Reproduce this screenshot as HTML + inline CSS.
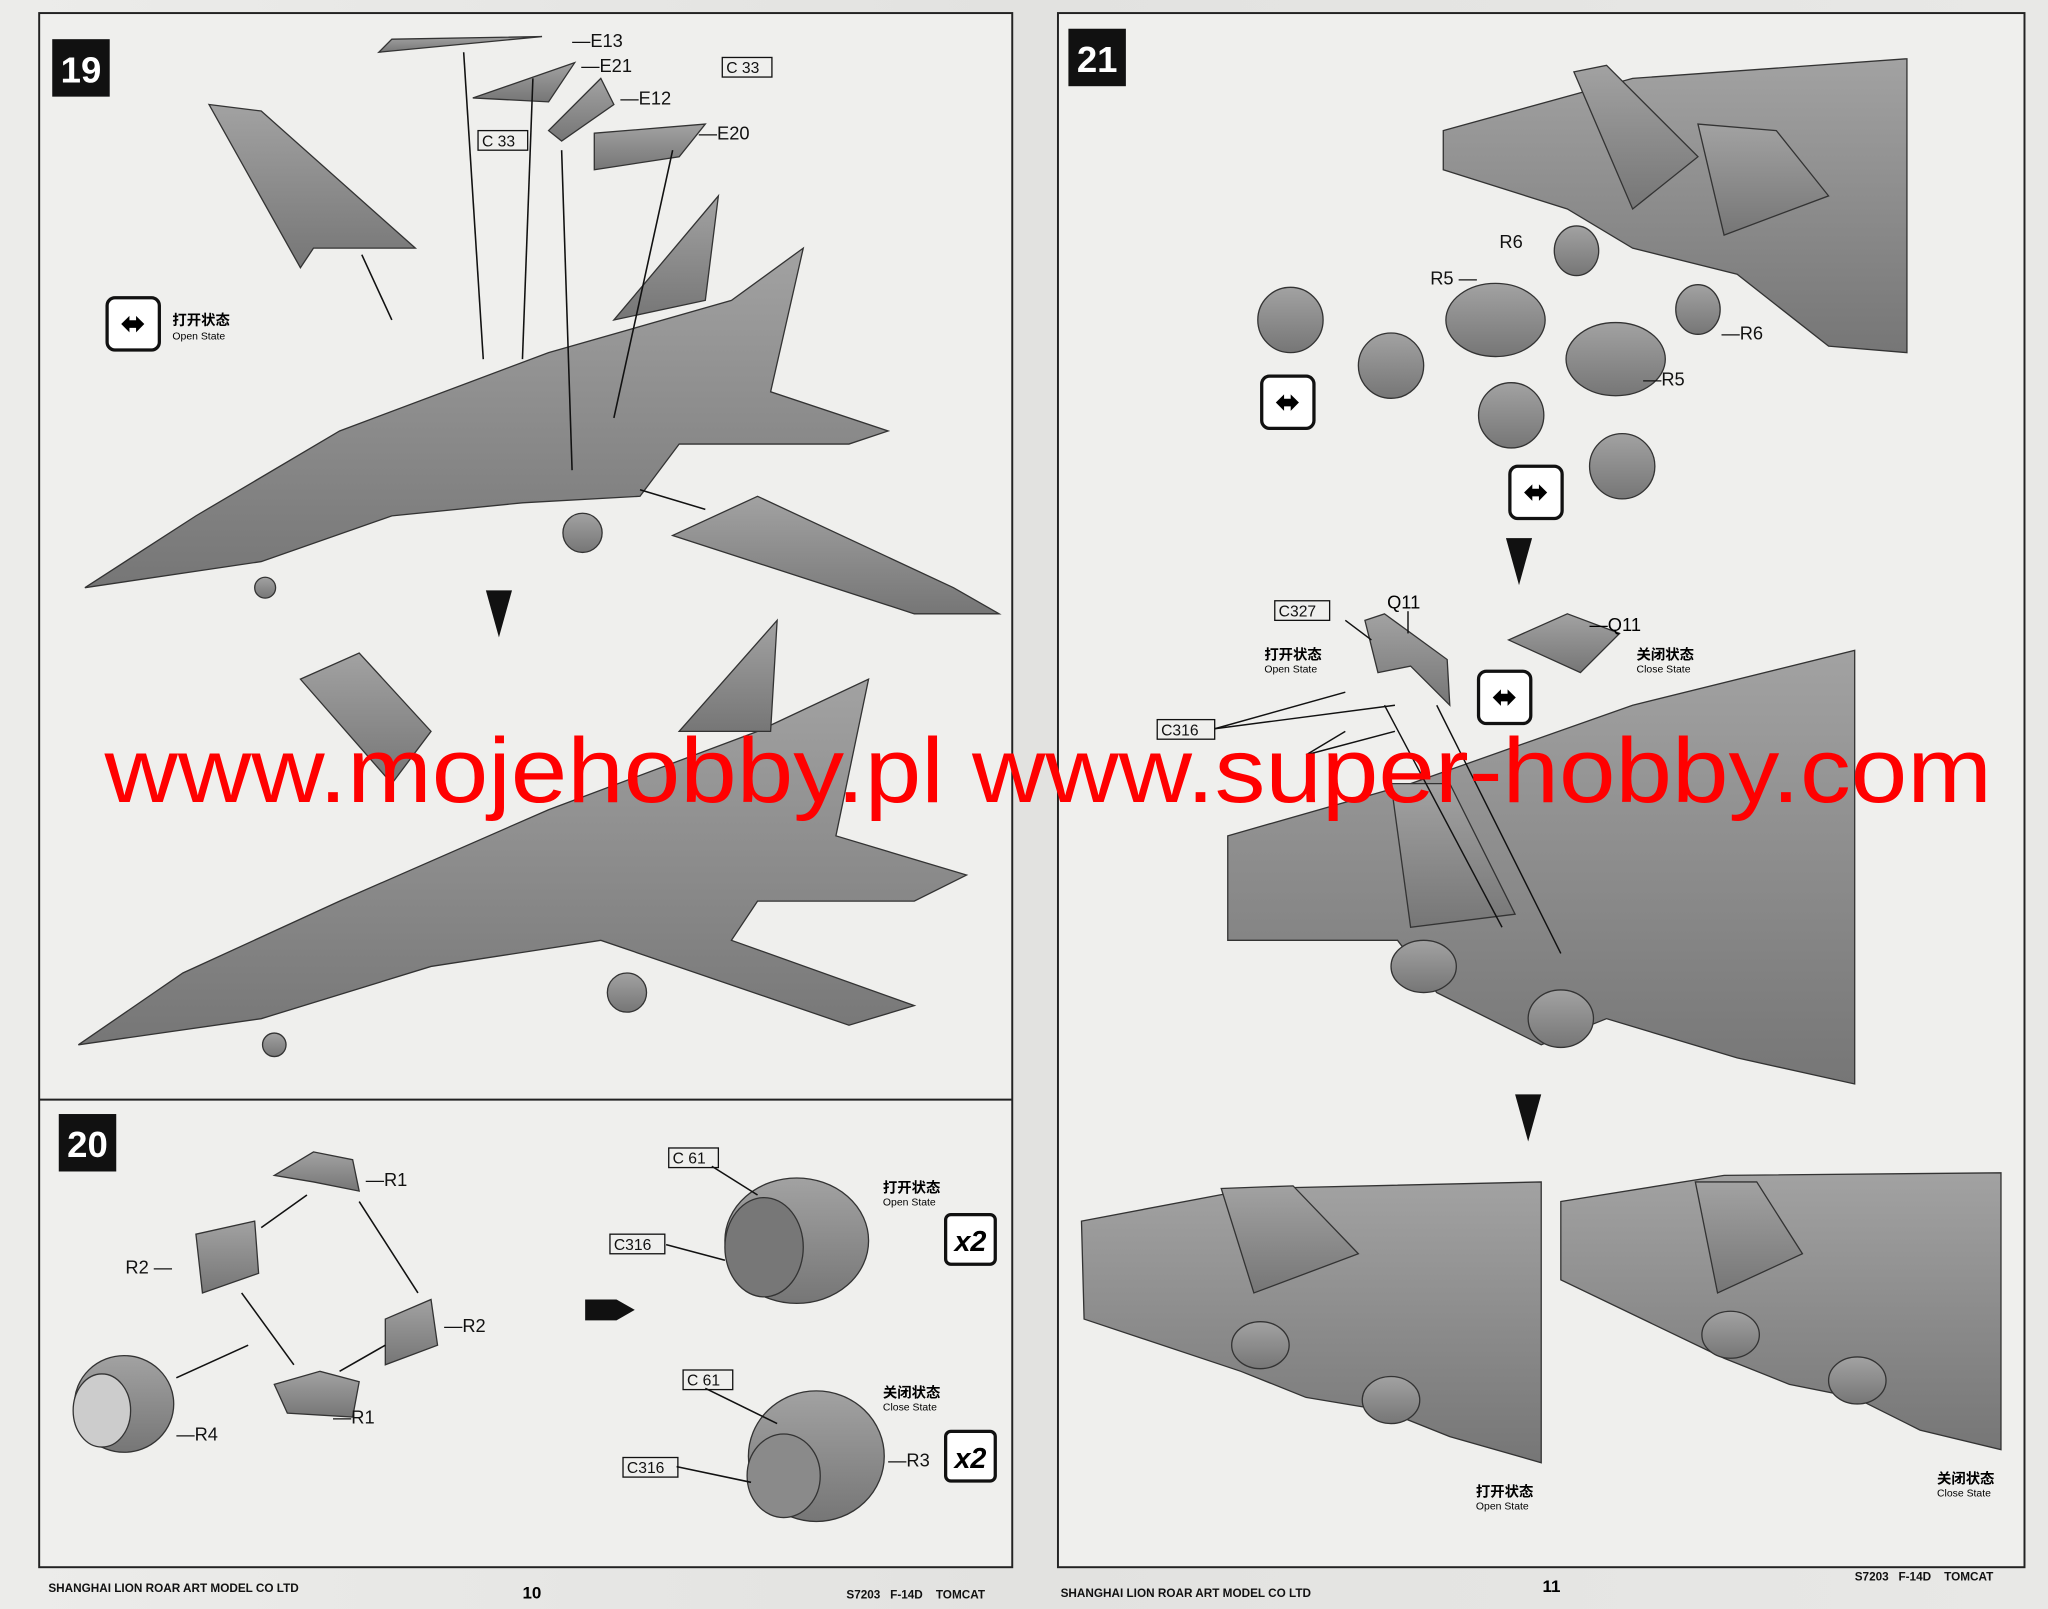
<!DOCTYPE html>
<html><head><meta charset="utf-8"><style>
html,body{margin:0;padding:0;background:#e9e9e7;}
svg{display:block;}
text{font-family:"Liberation Sans","Noto Sans CJK SC",sans-serif;}
</style></head><body>
<svg width="2048" height="1609" viewBox="0 0 1568 1232" preserveAspectRatio="none" xmlns="http://www.w3.org/2000/svg">
<defs>
<linearGradient id="bg" x1="0" y1="0" x2="1" y2="0">
<stop offset="0" stop-color="#ececea"/><stop offset="0.5" stop-color="#e2e2e0"/><stop offset="1" stop-color="#e8e8e6"/></linearGradient>
<linearGradient id="jet" x1="0" y1="0" x2="0" y2="1">
<stop offset="0" stop-color="#a2a2a2"/><stop offset="1" stop-color="#767676"/></linearGradient>
</defs>
<rect width="1568" height="1232" fill="url(#bg)"/>
<rect x="30" y="10" width="745" height="1190" fill="#efefed" stroke="#222" stroke-width="1.5"/>
<line x1="30" y1="842" x2="775" y2="842" stroke="#222" stroke-width="1.5"/>
<rect x="810" y="10" width="740" height="1190" fill="#efefed" stroke="#222" stroke-width="1.5"/>
<rect x="40" y="30" width="44" height="44" fill="#111"/><text x="62" y="63" fill="#fff" font-size="28" font-weight="bold" text-anchor="middle">19</text>
<rect x="45" y="853" width="44" height="44" fill="#111"/><text x="67" y="886" fill="#fff" font-size="28" font-weight="bold" text-anchor="middle">20</text>
<rect x="818" y="22" width="44" height="44" fill="#111"/><text x="840" y="55" fill="#fff" font-size="28" font-weight="bold" text-anchor="middle">21</text>

<g fill="url(#jet)" stroke="#333" stroke-width="1">
<path d="M65,450 L150,395 L260,330 L420,270 L560,230 L615,190 L590,300 L680,330 L650,340 L520,340 L490,380 L400,385 L300,395 L200,430 Z"/>
<path d="M470,245 L550,150 L540,230 Z"/>
<path d="M160,80 L200,85 L318,190 L240,190 L230,205 Z"/>
<path d="M515,410 L580,380 L730,450 L765,470 L700,470 Z"/>
<path d="M290,40 L415,28 L300,30 Z"/>
<path d="M362,75 L440,48 L420,78 Z"/>
<path d="M455,102 L540,95 L520,120 L455,130 Z"/>
<path d="M420,100 L460,60 L470,80 L430,108 Z"/>
<circle cx="446" cy="408" r="15"/><circle cx="203" cy="450" r="8"/>
</g>
<g fill="url(#jet)" stroke="#333" stroke-width="1">
<path d="M60,800 L140,745 L260,690 L420,620 L580,560 L665,520 L640,640 L740,670 L700,690 L580,690 L560,720 L700,770 L650,785 L460,720 L330,740 L200,780 Z"/>
<path d="M520,560 L595,475 L590,560 Z"/>
<path d="M230,520 L275,500 L330,560 L300,600 Z"/>
<circle cx="480" cy="760" r="15"/><circle cx="210" cy="800" r="9"/>
</g>
<g stroke="#111" stroke-width="1.2" fill="none">
<line x1="355" y1="40" x2="370" y2="275"/><line x1="408" y1="60" x2="400" y2="275"/>
<line x1="430" y1="115" x2="438" y2="360"/><line x1="515" y1="115" x2="470" y2="320"/>
<line x1="277" y1="195" x2="300" y2="245"/><line x1="540" y1="390" x2="490" y2="375"/>
</g>
<g font-size="14" fill="#111">
<text x="438" y="36">—E13</text><text x="445" y="55">—E21</text><text x="475" y="80">—E12</text><text x="535" y="107">—E20</text>
</g>
<g font-size="12" fill="#111"><rect x="553" y="44" width="38" height="15" fill="none" stroke="#111"/><text x="556" y="56">C 33</text>
<rect x="366" y="100" width="38" height="15" fill="none" stroke="#111"/><text x="369" y="112">C 33</text></g>
<rect x="82" y="228" width="40" height="40" rx="6" fill="#fff" stroke="#111" stroke-width="2.5"/>
<text x="102" y="255" font-size="22" text-anchor="middle" font-weight="bold">⬌</text>
<text x="132" y="249" font-size="11" font-weight="bold">打开状态</text><text x="132" y="260" font-size="8">Open State</text>
<path d="M372,452 L392,452 L382,488 Z" fill="#111"/>

<g fill="url(#jet)" stroke="#333" stroke-width="1">
<path d="M210,900 L240,882 L270,888 L275,912 L240,905 Z"/>
<path d="M150,945 L195,935 L198,975 L155,990 Z"/>
<path d="M295,1010 L330,995 L335,1030 L295,1045 Z"/>
<path d="M210,1060 L245,1050 L275,1058 L270,1085 L220,1082 Z"/>
<ellipse cx="95" cy="1075" rx="38" ry="37"/>
<ellipse cx="610" cy="950" rx="55" ry="48"/>
<ellipse cx="625" cy="1115" rx="52" ry="50"/>
</g>
<ellipse cx="78" cy="1080" rx="22" ry="28" fill="#ccc" stroke="#333"/>
<ellipse cx="585" cy="955" rx="30" ry="38" fill="#777" stroke="#333"/>
<ellipse cx="600" cy="1130" rx="28" ry="32" fill="#8a8a8a" stroke="#333"/>
<g stroke="#111" stroke-width="1.2" fill="none">
<line x1="235" y1="915" x2="200" y2="940"/><line x1="320" y1="990" x2="275" y2="920"/>
<line x1="185" y1="990" x2="225" y2="1045"/><line x1="135" y1="1055" x2="190" y2="1030"/>
<line x1="260" y1="1050" x2="295" y2="1030"/>
<line x1="545" y1="893" x2="580" y2="915"/><line x1="510" y1="953" x2="555" y2="965"/>
<line x1="540" y1="1063" x2="595" y2="1090"/><line x1="518" y1="1123" x2="575" y2="1135"/>
</g>
<g font-size="14" fill="#111">
<text x="280" y="908">—R1</text><text x="96" y="975">R2 —</text><text x="340" y="1020">—R2</text>
<text x="255" y="1090">—R1</text><text x="135" y="1103">—R4</text><text x="680" y="1123">—R3</text>
</g>
<g font-size="12" fill="#111">
<rect x="512" y="879" width="38" height="15" fill="none" stroke="#111"/><text x="515" y="891">C 61</text>
<rect x="467" y="945" width="42" height="15" fill="none" stroke="#111"/><text x="470" y="957">C316</text>
<rect x="523" y="1049" width="38" height="15" fill="none" stroke="#111"/><text x="526" y="1061">C 61</text>
<rect x="477" y="1116" width="42" height="15" fill="none" stroke="#111"/><text x="480" y="1128">C316</text>
</g>
<path d="M448,995 L472,995 L486,1003 L472,1011 L448,1011 Z" fill="#111"/>
<text x="676" y="913" font-size="11" font-weight="bold">打开状态</text><text x="676" y="923" font-size="8">Open State</text>
<text x="676" y="1070" font-size="11" font-weight="bold">关闭状态</text><text x="676" y="1080" font-size="8">Close State</text>
<rect x="724" y="930" width="38" height="38" rx="4" fill="#fff" stroke="#111" stroke-width="2.5"/><text x="743" y="958" font-size="22" font-weight="bold" font-style="italic" text-anchor="middle">x2</text>
<rect x="724" y="1096" width="38" height="38" rx="4" fill="#fff" stroke="#111" stroke-width="2.5"/><text x="743" y="1124" font-size="22" font-weight="bold" font-style="italic" text-anchor="middle">x2</text>

<g fill="url(#jet)" stroke="#333" stroke-width="1">
<path d="M1105,100 L1250,60 L1460,45 L1460,270 L1400,265 L1330,210 L1250,190 L1200,160 L1105,130 Z"/>
<path d="M1205,55 L1230,50 L1300,120 L1250,160 Z"/>
<path d="M1300,95 L1360,100 L1400,150 L1320,180 Z"/>
<ellipse cx="1207" cy="192" rx="17" ry="19"/><ellipse cx="1300" cy="237" rx="17" ry="19"/>
<ellipse cx="1145" cy="245" rx="38" ry="28"/><ellipse cx="1237" cy="275" rx="38" ry="28"/>
<ellipse cx="988" cy="245" rx="25" ry="25"/><ellipse cx="1065" cy="280" rx="25" ry="25"/>
<ellipse cx="1157" cy="318" rx="25" ry="25"/><ellipse cx="1242" cy="357" rx="25" ry="25"/>
</g>
<g font-size="14" fill="#111"><text x="1148" y="190">R6</text><text x="1095" y="218">R5 —</text>
<text x="1318" y="260">—R6</text><text x="1258" y="295">—R5</text></g>
<rect x="966" y="288" width="40" height="40" rx="6" fill="#fff" stroke="#111" stroke-width="2.5"/><text x="986" y="315" font-size="22" text-anchor="middle" font-weight="bold">⬌</text>
<rect x="1156" y="357" width="40" height="40" rx="6" fill="#fff" stroke="#111" stroke-width="2.5"/><text x="1176" y="384" font-size="22" text-anchor="middle" font-weight="bold">⬌</text>
<path d="M1153,412 L1173,412 L1163,448 Z" fill="#111"/>

<g fill="url(#jet)" stroke="#333" stroke-width="1">
<path d="M940,640 L1080,600 L1250,540 L1420,498 L1420,830 L1330,810 L1230,780 L1180,800 L1100,760 L1070,720 L940,720 Z"/>
<path d="M1065,600 L1110,600 L1160,700 L1080,710 Z"/>
<ellipse cx="1090" cy="740" rx="25" ry="20"/><ellipse cx="1195" cy="780" rx="25" ry="22"/>
<path d="M1045,475 L1060,470 L1108,505 L1110,540 L1080,510 L1055,515 Z"/>
<path d="M1155,490 L1200,470 L1240,485 L1210,515 Z"/>
</g>
<g stroke="#111" stroke-width="1.1" fill="none">
<line x1="1030" y1="475" x2="1050" y2="490"/><line x1="1078" y1="468" x2="1078" y2="485"/>
<line x1="930" y1="558" x2="1030" y2="530"/><line x1="930" y1="558" x2="1068" y2="540"/>
<line x1="1000" y1="578" x2="1030" y2="560"/><line x1="1000" y1="578" x2="1068" y2="560"/>
<line x1="1100" y1="540" x2="1195" y2="730"/><line x1="1060" y1="540" x2="1150" y2="710"/>
</g>
<g font-size="12" fill="#111">
<rect x="976" y="460" width="42" height="15" fill="none" stroke="#111"/><text x="979" y="472">C327</text>
<rect x="886" y="551" width="44" height="15" fill="none" stroke="#111"/><text x="889" y="563">C316</text>
</g>
<text x="1062" y="466" font-size="14">Q11</text><text x="1217" y="483" font-size="14">—Q11</text>
<text x="968" y="505" font-size="11" font-weight="bold">打开状态</text><text x="968" y="515" font-size="8">Open State</text>
<text x="1253" y="505" font-size="11" font-weight="bold">关闭状态</text><text x="1253" y="515" font-size="8">Close State</text>
<rect x="1132" y="514" width="40" height="40" rx="6" fill="#fff" stroke="#111" stroke-width="2.5"/><text x="1152" y="541" font-size="22" text-anchor="middle" font-weight="bold">⬌</text>
<path d="M1160,838 L1180,838 L1170,874 Z" fill="#111"/>

<g fill="url(#jet)" stroke="#333" stroke-width="1">
<path d="M828,935 L960,910 L1180,905 L1180,1120 L1110,1100 L1060,1080 L1000,1070 L950,1050 L830,1010 Z"/>
<path d="M935,910 L990,908 L1040,960 L960,990 Z"/>
<ellipse cx="965" cy="1030" rx="22" ry="18"/><ellipse cx="1065" cy="1072" rx="22" ry="18"/>
<path d="M1195,920 L1320,900 L1532,898 L1532,1110 L1470,1095 L1420,1070 L1370,1060 L1320,1040 L1195,980 Z"/>
<path d="M1298,905 L1345,905 L1380,960 L1315,990 Z"/>
<ellipse cx="1325" cy="1022" rx="22" ry="18"/><ellipse cx="1422" cy="1057" rx="22" ry="18"/>
</g>
<text x="1130" y="1146" font-size="11" font-weight="bold">打开状态</text><text x="1130" y="1156" font-size="8">Open State</text>
<text x="1483" y="1136" font-size="11" font-weight="bold">关闭状态</text><text x="1483" y="1146" font-size="8">Close State</text>

<g font-size="9" font-weight="bold" fill="#111">
<text x="37" y="1219">SHANGHAI LION ROAR ART MODEL CO LTD</text>
<text x="648" y="1224" xml:space="preserve">S7203   F-14D    TOMCAT</text>
<text x="812" y="1223">SHANGHAI LION ROAR ART MODEL CO LTD</text>
<text x="1420" y="1210" xml:space="preserve">S7203   F-14D    TOMCAT</text>
</g>
<text x="400" y="1224" font-size="13" font-weight="bold">10</text>
<text x="1181" y="1219" font-size="13" font-weight="bold">11</text>

<text x="80" y="614" font-size="70" fill="#ff0000" textLength="1445" lengthAdjust="spacingAndGlyphs">www.mojehobby.pl www.super-hobby.com</text>
</svg>
</body></html>
